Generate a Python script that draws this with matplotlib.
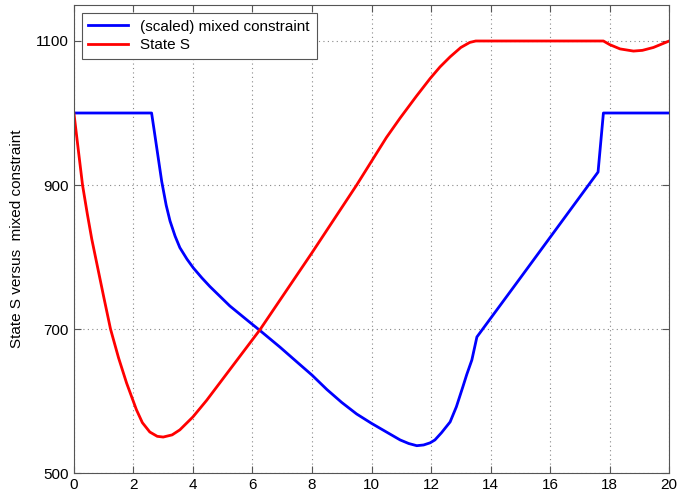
import matplotlib
matplotlib.use("Agg")
import matplotlib.pyplot as plt

plt.rcParams.update({
    "font.family": ["Liberation Sans", "DejaVu Sans"],
    "font.size": 11,
    "xtick.direction": "in",
    "ytick.direction": "in",
    "xtick.top": True,
    "ytick.right": True,
    "xtick.major.size": 5,
    "ytick.major.size": 5,
    "axes.edgecolor": "#555555",
    "xtick.color": "#555555",
    "ytick.color": "#555555",
    "xtick.labelcolor": "black",
    "ytick.labelcolor": "black",
})

# (scaled) mixed constraint
t_mixed = [0, 2.61, 2.7, 2.8, 2.95, 3.1, 3.23, 3.4, 3.56, 3.8, 4.01, 4.3, 4.57,
           5.24, 5.92, 6.25, 6.92, 7.5, 8.0, 8.5, 9.0, 9.5, 10.0, 10.5, 10.96,
           11.25, 11.52, 11.75, 11.97, 12.13, 12.35, 12.64, 12.85, 13.07, 13.2,
           13.37, 13.54, 15.0, 17.61, 17.79, 20]
mixed = [1000, 1000, 975, 947, 905, 872, 850, 829, 813, 797, 785, 771, 759,
         732, 709, 698, 675, 654, 636, 616, 598, 582, 569, 557, 546,
         541, 538, 539, 542, 546, 556, 571, 592, 620, 637,
         657, 689, 771, 918, 1000, 1000]

# state S
t_state = [0, 0.15, 0.29, 0.45, 0.6, 0.8, 1.0, 1.23, 1.5, 1.77, 2.1, 2.3, 2.55,
           2.8, 3.0, 3.3, 3.56, 4.0, 4.46, 6.25, 8.0, 9.5, 10.5, 10.96, 11.5,
           11.97, 12.3, 12.64, 13.0, 13.3, 13.5, 17.79, 18.0, 18.35, 18.8,
           19.1, 19.47, 20]
state = [1000, 948, 900, 860, 825, 785, 745, 700, 660, 625, 588, 570, 557,
         551, 550, 553, 560, 578, 601, 699, 806, 900, 966, 993, 1023,
         1048, 1064, 1078, 1091, 1098, 1100, 1100, 1095, 1089, 1086,
         1087, 1091, 1100]

xticks = list(range(0, 21, 2))
yticks = [500, 700, 900, 1100]

fig = plt.figure(figsize=(6.78, 4.99), dpi=100)
ax = fig.add_axes([0.109, 0.052, 0.878, 0.938])

ax.plot(t_mixed, mixed, color="blue", lw=2, label="(scaled) mixed constraint")
ax.plot(t_state, state, color="red", lw=2, label="State S")

ax.set_xlim(0, 20)
ax.set_ylim(500, 1150)
ax.set_xticks(xticks)
ax.set_yticks(yticks)
ax.grid(True, linestyle=(0, (1, 3)), color="#888888", lw=0.8)
ax.set_ylabel("State S versus  mixed constraint")
ax.yaxis.set_label_coords(-0.084, 0.5)

leg = ax.legend(loc="upper left", fancybox=False, framealpha=1,
                edgecolor="#555555", borderaxespad=0.5, handlelength=2.6,
                borderpad=0.45, labelspacing=0.3)
leg.get_frame().set_linewidth(0.8)

fig.savefig("out.png", dpi=100)
